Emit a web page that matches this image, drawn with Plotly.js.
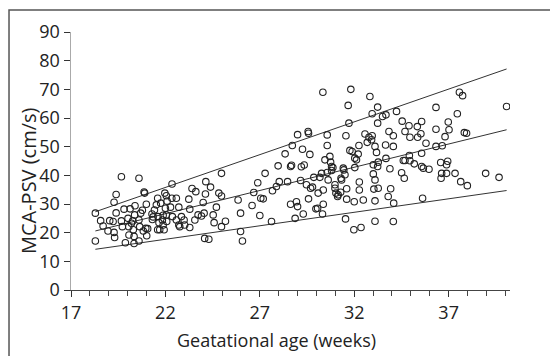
<!DOCTYPE html>
<html>
<head>
<meta charset="utf-8">
<script src="https://cdn.plot.ly/plotly-3.0.1.min.js"></script>
<style>
  html, body { margin: 0; padding: 0; background: #fff; }
  #chart { width: 550px; height: 356px; }
</style>
</head>
<body>
<div id="chart"></div>
<script>
// Gestational age (weeks) of each measurement
const ageWeeks = [
  18.29, 18.29, 18.57, 18.70, 18.96, 19.05, 19.23, 19.28, 19.39, 19.28,
  19.31, 19.39, 19.67, 19.67, 19.72, 19.81, 19.88, 20.02, 20.06, 20.07,
  20.13, 20.20, 20.27, 20.30, 20.34, 20.34, 20.39, 20.37, 20.60, 20.60,
  20.64, 20.60, 20.69, 20.78, 20.83, 20.87, 20.90, 20.99, 20.96, 21.01,
  21.06, 21.29, 21.31, 21.35, 21.42, 21.52, 21.59, 21.59, 21.61, 21.66,
  21.70, 21.75, 21.84, 21.88, 21.88, 21.93, 21.97, 22.05, 22.00, 22.05,
  22.07, 22.09, 22.35, 22.34, 22.27, 22.37, 22.58, 22.71, 22.58, 22.71,
  22.76, 22.85, 22.99, 23.02, 23.24, 23.29, 23.29, 23.41, 23.61, 23.56,
  23.73, 23.91, 24.00, 24.05, 24.12, 24.14, 24.08, 24.30, 24.39, 24.53,
  24.58, 24.70, 24.97, 24.83, 24.97, 24.97, 25.18, 25.85, 25.98, 25.98,
  26.08, 26.59, 26.89, 27.00, 27.05, 27.18, 27.28, 26.68, 27.62, 27.67,
  27.88, 27.97, 28.03, 28.34, 28.47, 28.63, 28.68, 28.63, 28.72, 28.87,
  28.94, 29.00, 29.00, 29.16, 29.26, 29.30, 29.35, 29.20, 29.47, 29.58,
  29.56, 29.65, 29.69, 29.58, 29.79, 29.86, 29.97, 30.06, 30.09, 30.18,
  30.27, 30.34, 30.36, 30.36, 30.32, 30.45, 30.57, 30.57, 30.57, 30.62,
  30.71, 30.75, 30.80, 30.80, 30.87, 30.98, 30.98, 31.03, 31.12, 31.15,
  31.28, 31.30, 31.33, 31.42, 31.45, 31.51, 31.56, 31.60, 31.60, 31.54,
  31.68, 31.72, 31.82, 31.77, 31.89, 32.00, 31.98, 32.03, 32.03, 32.12,
  32.21, 32.25, 32.27, 32.27, 32.36, 32.48, 32.57, 32.69, 32.78, 32.83,
  32.92, 32.95, 32.95, 33.01, 33.01, 33.04, 33.10, 33.10, 33.10, 33.10,
  33.18, 33.24, 33.24, 33.24, 33.27, 33.27, 33.50, 33.66, 33.68, 33.68,
  33.80, 33.84, 33.89, 33.93, 34.07, 34.07, 34.07, 34.09, 34.24, 34.54,
  34.51, 34.60, 34.65, 34.69, 34.69, 34.90, 34.92, 34.95, 34.95, 35.18,
  35.34, 35.36, 35.57, 35.53, 35.57, 35.57, 35.62, 35.66, 35.80, 35.96,
  36.33, 36.33, 36.33, 36.58, 36.60, 36.63, 36.66, 36.81, 36.89, 36.89,
  36.95, 36.98, 37.02, 37.34, 37.46, 37.57, 37.64, 37.74, 37.83, 37.95,
  37.99, 38.96, 39.67, 40.07
];
// MCA peak systolic velocity (cm/s) of each measurement
const mcaPsv = [
  17.1, 26.8, 24.2, 22.3, 20.6, 24.2, 23.9, 30.6, 33.3, 20.1,
  18.3, 26.9, 39.5, 24.1, 22.1, 28.2, 16.5, 25.0, 22.1, 19.2,
  28.3, 23.3, 24.1, 21.0, 18.7, 16.2, 29.4, 26.2, 39.0, 17.1,
  22.1, 24.4, 26.8, 27.8, 20.6, 34.2, 33.8, 29.9, 21.5, 18.9,
  21.4, 26.5, 24.6, 25.5, 27.9, 29.7, 32.0, 21.0, 25.6, 23.5,
  21.0, 30.3, 24.4, 26.1, 22.7, 21.0, 33.8, 32.9, 28.5, 26.2,
  23.9, 31.0, 37.0, 32.0, 28.9, 25.6, 32.0, 28.9, 24.4, 22.7,
  22.1, 25.6, 24.4, 22.7, 31.7, 28.2, 21.8, 35.4, 34.3, 24.4,
  26.2, 25.8, 30.5, 26.8, 33.5, 37.8, 18.0, 17.7, 35.9, 26.2,
  23.5, 28.9, 40.7, 33.8, 32.8, 22.1, 24.0, 31.4, 26.8, 20.4,
  17.1, 29.5, 37.4, 26.0, 32.0, 31.8, 40.7, 34.0, 23.9, 34.6,
  36.1, 43.3, 37.8, 47.5, 37.8, 29.9, 43.5, 43.1, 50.4, 25.0,
  30.8, 29.1, 54.2, 38.2, 49.1, 26.5, 43.6, 43.0, 36.7, 54.7,
  55.3, 47.3, 35.5, 31.8, 35.9, 39.3, 28.3, 28.5, 33.8, 39.3,
  40.7, 69.0, 34.9, 29.9, 26.5, 45.4, 54.1, 50.4, 41.0, 38.4,
  46.6, 44.6, 43.1, 41.7, 42.7, 36.7, 35.5, 33.8, 32.6, 33.2,
  34.1, 39.0, 38.4, 42.5, 41.9, 40.2, 53.8, 35.3, 31.7, 24.8,
  64.4, 58.2, 70.0, 48.7, 48.3, 30.8, 21.0, 46.0, 42.7, 45.4,
  47.4, 50.4, 37.7, 34.9, 21.8, 31.4, 54.4, 51.5, 53.3, 67.5,
  52.4, 53.8, 61.5, 40.5, 43.7, 35.2, 38.4, 31.1, 24.0, 50.1,
  48.0, 43.1, 63.8, 58.2, 44.6, 35.5, 60.5, 50.6, 61.1, 45.9,
  32.6, 55.3, 42.3, 35.3, 50.1, 53.8, 23.9, 30.3, 62.3, 58.9,
  40.9, 45.2, 39.0, 45.2, 55.3, 57.3, 46.9, 45.1, 53.3, 44.0,
  57.0, 53.3, 58.8, 54.5, 47.7, 43.1, 32.0, 42.5, 51.2, 42.1,
  63.7, 56.1, 50.1, 44.5, 39.0, 40.7, 50.3, 53.5, 43.7, 40.7,
  44.9, 58.6, 55.9, 40.7, 61.5, 69.0, 37.8, 67.8, 54.9, 54.7,
  36.4, 40.7, 39.3, 64.0
];
// Reference lines (upper, mean, lower) endpoints
const lineAges = [18.29, 40.07];
const upperLine = [27.3, 77.1];
const meanLine = [20.6, 55.9];
const lowerLine = [14.2, 34.7];
const xTickVals = [17, 22, 27, 32, 37];
const yTickVals = [0, 10, 20, 30, 40, 50, 60, 70, 80, 90];
const xTitle = 'Geatational age (weeks)';
const yTitle = 'MCA-PSV (cm/s)';

const FONT = '"Open Sans", Lato, "DejaVu Sans", sans-serif';
const lineStyle = {color: '#333', width: 1};

const traces = [
  {x: lineAges, y: upperLine, mode: 'lines', line: lineStyle, hoverinfo: 'skip'},
  {x: lineAges, y: meanLine, mode: 'lines', line: lineStyle, hoverinfo: 'skip'},
  {x: lineAges, y: lowerLine, mode: 'lines', line: lineStyle, hoverinfo: 'skip'},
  {
    x: ageWeeks, y: mcaPsv, mode: 'markers', type: 'scatter',
    marker: {symbol: 'circle-open', size: 6.5, color: '#222', line: {width: 1.1, color: '#222'}}
  }
];

const layout = {
  width: 550, height: 356,
  margin: {l: 71, r: 40, t: 32, b: 66},
  paper_bgcolor: '#fff', plot_bgcolor: '#fff',
  showlegend: false,
  font: {family: FONT, color: '#222', size: 18},
  xaxis: {
    range: [17, 40.25], tickvals: xTickVals, ticktext: xTickVals.map(String),
    ticks: 'outside', ticklen: 6, tickwidth: 1, tickcolor: '#333',
    minor: {dtick: 1, tick0: 17, ticks: 'outside', ticklen: 5, tickwidth: 1, tickcolor: '#444'},
    showline: true, linecolor: '#444', linewidth: 1,
    showgrid: false, zeroline: false,
    tickfont: {family: FONT, size: 18, color: '#222'},
    automargin: false
  },
  yaxis: {
    range: [0, 90], tickvals: yTickVals,
    ticks: 'outside', ticklen: 6, tickwidth: 1, tickcolor: '#333',
    showline: true, linecolor: '#aaa', linewidth: 1.5,
    showgrid: false, zeroline: false,
    tickfont: {family: FONT, size: 18, color: '#222'},
    automargin: false
  },
  annotations: [
    {text: xTitle, xref: 'paper', yref: 'paper', x: 0.469, y: -0.194,
     xanchor: 'center', yanchor: 'middle', showarrow: false,
     font: {family: FONT, size: 18, color: '#222'}},
    {text: yTitle, xref: 'paper', yref: 'paper', x: -0.098, y: 0.426,
     xanchor: 'center', yanchor: 'middle', textangle: -90, showarrow: false,
     font: {family: FONT, size: 20, color: '#222'}}
  ],
  shapes: [{
    type: 'rect', xref: 'paper', yref: 'paper',
    x0: -0.1412, x1: 1.3, y0: -0.5, y1: 1.0853,
    line: {color: '#555', width: 1.5}
  }]
};

Plotly.newPlot('chart', traces, layout, {displayModeBar: false, staticPlot: true});
</script>
</body>
</html>
